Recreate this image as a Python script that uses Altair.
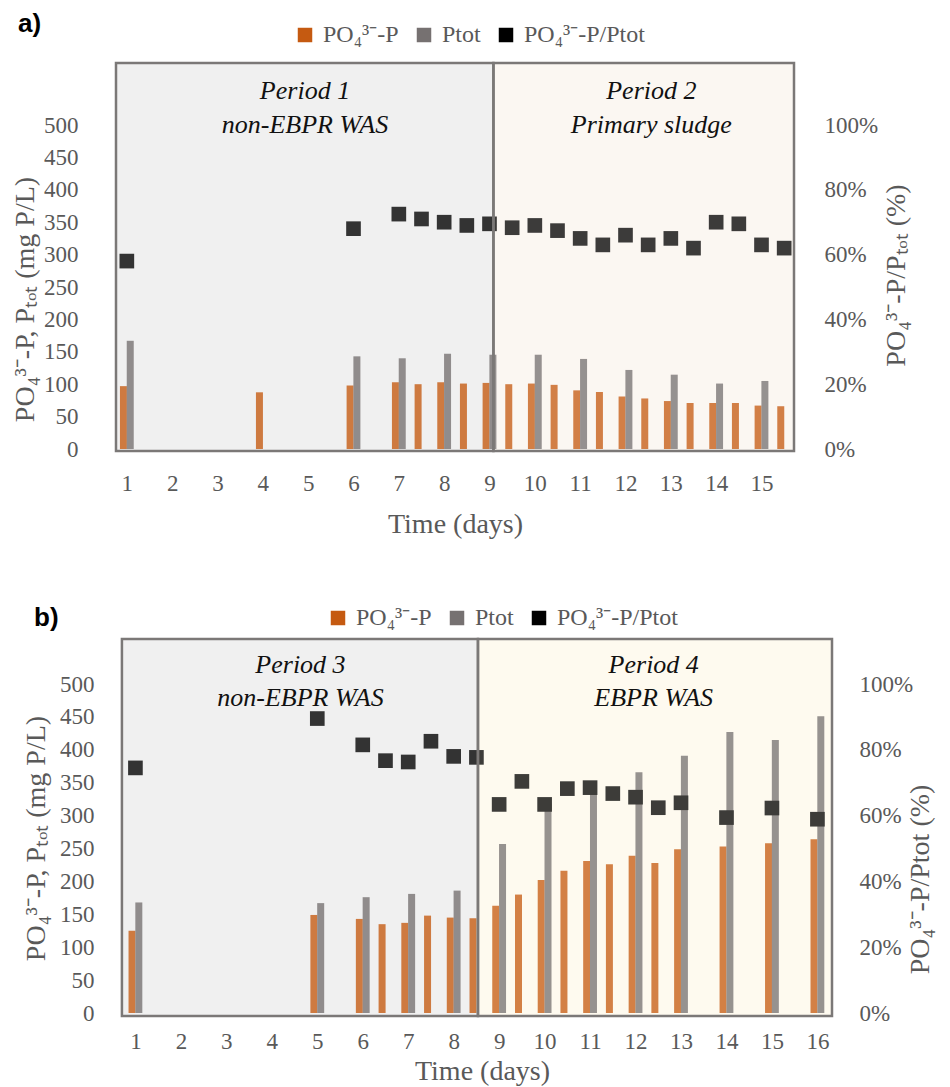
import altair as alt
import pandas as pd

SERIES = ["PO₄³⁻-P", "Ptot", "PO₄³⁻-P/Ptot"]
SERIES_COLORS = ["#C55A11", "#767171", "#000000"]

# ---------------- panel a ----------------
A_DAYS_PO4 = [1, 4, 6, 7, 7.5, 8, 8.5, 9, 9.5, 10, 10.5, 11, 11.5, 12, 12.5, 13, 13.5, 14, 14.5, 15, 15.5]
A_PO4 = [97, 87.5, 98, 103, 100, 103, 101, 102, 100, 101, 99, 90.5, 88, 81, 78, 74, 71, 71, 71, 67, 66]
A_DAYS_PTOT = [1, 6, 7, 8, 9, 10, 11, 12, 13, 14, 15]
A_PTOT = [167, 143, 140, 147, 145.5, 145.5, 139, 122, 114.7, 101, 105]
A_DAYS_RATIO = [1, 6, 7, 7.5, 8, 8.5, 9, 9.5, 10, 10.5, 11, 11.5, 12, 12.5, 13, 13.5, 14, 14.5, 15, 15.5]
A_RATIO = [58, 68, 72.5, 71, 70, 69, 69.5, 68.3, 69, 67.4, 65, 63, 66, 63, 65, 62, 70, 69.5, 63, 62]
A_TICKS = list(range(1, 16))
A_PERIOD_TEXT = ["Period 1", "non-EBPR WAS", "Period 2", "Primary sludge"]
A_PERIOD_DAY = [4.93, 4.93, 12.57, 12.57]
A_PERIOD_Y = [552, 500, 552, 500]

# ---------------- panel b ----------------
B_DAYS_PO4 = [1, 5, 6, 6.5, 7, 7.5, 8, 8.5, 9, 9.5, 10, 10.5, 11, 11.5, 12, 12.5, 13, 14, 15, 16]
B_PO4 = [125, 149, 143, 135, 137, 148, 145, 144, 163, 180, 202, 216, 231, 226, 239, 228, 249, 253, 258, 264]
B_DAYS_PTOT = [1, 5, 6, 7, 8, 9, 10, 11, 12, 13, 14, 15, 16]
B_PTOT = [168, 167, 176, 181, 186, 257, 318, 338, 366, 391, 427, 415, 451]
B_DAYS_RATIO = [1, 5, 6, 6.5, 7, 7.5, 8, 8.5, 9, 9.5, 10, 10.5, 11, 11.5, 12, 12.5, 13, 14, 15, 16]
B_RATIO = [74.5, 89.5, 81.5, 76.7, 76.3, 82.6, 78, 77.7, 63.4, 70.4, 63.4, 68.2, 68.5, 66.7, 65.6, 62.4, 63.9, 59.4, 62.3, 58.9]
B_TICKS = list(range(1, 17))
B_PERIOD_TEXT = ["Period 3", "non-EBPR WAS", "Period 4", "EBPR WAS"]
B_PERIOD_DAY = [4.63, 4.63, 12.4, 12.4]
B_PERIOD_Y = [529, 479, 529, 479]

FONT = "Liberation Serif"
LABEL_COLOR = "#595959"


def long_df(dp, po4, dt, ptot, dr, ratio):
    rows = []
    for d, v in zip(dp, po4):
        rows.append({"day": d, "value": v, "series": SERIES[0]})
    for d, v in zip(dt, ptot):
        rows.append({"day": d, "value": v, "series": SERIES[1]})
    for d, v in zip(dr, ratio):
        rows.append({"day": d, "value": v / 100.0, "series": SERIES[2]})
    return pd.DataFrame(rows)


def panel(df, cfg):
    width, height = cfg["width"], cfg["height"]
    xdom, ydom, rdom = cfg["xdom"], cfg["ydom"], cfg["rdom"]
    xscale = alt.Scale(domain=xdom, nice=False, zero=False)
    xaxis = alt.Axis(values=cfg["ticks"], format="d", title="Time (days)",
                     labelPadding=cfg["xlabpad"], tickSize=0,
                     titleX=width / 2 + cfg["xtitle_dx"], titleY=cfg["xtitle_y"],
                     titleBaseline="middle", titleAlign="center")
    X = alt.X("day:Q", scale=xscale, axis=xaxis)
    yscale = alt.Scale(domain=ydom, nice=False, zero=False)
    rscale = alt.Scale(domain=rdom, nice=False, zero=False)
    Yhid = alt.Y("value:Q", scale=yscale, axis=None)

    color = alt.Color("series:N",
                      scale=alt.Scale(domain=SERIES, range=SERIES_COLORS),
                      legend=alt.Legend(title=None, orient="none",
                                        legendX=cfg["legx"], legendY=cfg["legy"],
                                        direction="horizontal", symbolType="square",
                                        symbolSize=210, symbolStrokeWidth=0,
                                        symbolOpacity=1,
                                        labelFont=FONT, labelFontSize=24,
                                        labelColor=LABEL_COLOR, labelOffset=6,
                                        columnPadding=13))

    b = cfg["boxes"]
    box_df = pd.DataFrame({"day": [b[0], b[1]], "day2": [b[1], b[2]],
                           "value": [cfg["ybot"]] * 2, "value2": [ydom[1]] * 2})
    bg1 = alt.Chart(box_df.iloc[[0]]).mark_rect(color=cfg["fill1"]).encode(
        x=X, x2="day2", y=Yhid, y2="value2")
    bg2 = alt.Chart(box_df.iloc[[1]]).mark_rect(color=cfg["fill2"]).encode(
        x=X, x2="day2", y=Yhid, y2="value2")

    po4 = alt.Chart(df[df.series == SERIES[0]]).mark_bar(
        width=7, xOffset=-3.4).encode(
        x=X,
        y=alt.Y("value:Q", scale=yscale,
                axis=alt.Axis(values=list(range(0, 501, 50)), tickSize=0,
                              labelPadding=cfg["ylabpad"],
                              title="PO₄³⁻-P, Pₜₒₜ (mg P/L)",
                              titleAngle=270, titleBaseline="middle",
                              titleAlign="center",
                              titleX=cfg["ytitle_x"], titleY=cfg["ytitle_y"])),
        color=color)
    ptot = alt.Chart(df[df.series == SERIES[1]]).mark_bar(
        width=7, xOffset=3.4).encode(x=X, y=Yhid, color=color)
    ratio = alt.Chart(df[df.series == SERIES[2]]).mark_square(
        size=215, opacity=1, filled=True).encode(
        x=X,
        y=alt.Y("value:Q", scale=rscale,
                axis=alt.Axis(orient="right", values=[0, 0.2, 0.4, 0.6, 0.8, 1.0],
                              format=".0%", tickSize=0, labelPadding=cfg["rlabpad"],
                              title=cfg["rtitle"], titleAngle=270,
                              titleBaseline="middle", titleAlign="center",
                              titleX=cfg["rtitle_x"], titleY=cfg["rtitle_y"])),
        color=color)

    ov1 = alt.Chart(box_df.iloc[[0]]).mark_rect(color=cfg["fill1"], opacity=0.21).encode(
        x=X, x2="day2", y=Yhid, y2="value2")
    ov2 = alt.Chart(box_df.iloc[[1]]).mark_rect(color=cfg["fill2"], opacity=0.24).encode(
        x=X, x2="day2", y=Yhid, y2="value2")
    border = alt.Chart(box_df).mark_rect(fillOpacity=0, stroke="#7b7877",
                                         strokeWidth=2.5).encode(
        x=X, x2="day2", y=Yhid, y2="value2")

    txt_df = pd.DataFrame({"day": cfg["pday"], "value": cfg["py"], "t": cfg["ptext"]})
    ptxt = alt.Chart(txt_df).mark_text(font=FONT, fontStyle="italic", fontSize=26,
                                       color="#111111", baseline="middle").encode(
        x=X, y=Yhid, text="t:N")

    letter = alt.Chart(pd.DataFrame({"t": [cfg["letter"]]})).mark_text(
        font="Liberation Sans", fontWeight="bold", fontSize=26, color="#000000",
        align="left", baseline="middle").encode(
        x=alt.value(cfg["letter_x"]), y=alt.value(cfg["letter_y"]), text="t:N")

    return alt.layer(bg1, bg2, po4, ptot, ratio, ov1, ov2, border, ptxt, letter).resolve_scale(
        y="independent").properties(width=width, height=height)


cfg_a = dict(width=688, height=386, xdom=[0.761, 15.717], ydom=[0, 595.7], rdom=[0, 1.1914],
             ticks=A_TICKS, xlabpad=23, xtitle_dx=0, xtitle_y=75,
             ylabpad=33, ytitle_x=-86, ytitle_y=236,
             rlabpad=25, rtitle="PO₄³⁻-P/Pₜₒₜ (%)", rtitle_x=97, rtitle_y=212,
             legx=182, legy=-40, boxes=[0.761, 9.087, 15.717], ybot=-3,
             fill1="#f0f0f0", fill2="#fcf7f2",
             pday=A_PERIOD_DAY, py=A_PERIOD_Y, ptext=A_PERIOD_TEXT,
             letter="a)", letter_x=-93, letter_y=-39)

cfg_b = dict(width=726, height=374, xdom=[0.5727, 16.321], ydom=[0, 568.4], rdom=[0, 1.1368],
             ticks=B_TICKS, xlabpad=17, xtitle_dx=8, xtitle_y=58,
             ylabpad=17, ytitle_x=-75, ytitle_y=199,
             rlabpad=22, rtitle="PO₄³⁻-P/Ptot (%)", rtitle_x=83, rtitle_y=240,
             legx=215, legy=-33, boxes=[0.703, 8.534, 16.321], ybot=-4.5,
             fill1="#f0f0f0", fill2="#fefaf0",
             pday=B_PERIOD_DAY, py=B_PERIOD_Y, ptext=B_PERIOD_TEXT,
             letter="b)", letter_x=-77, letter_y=-21)

df_a = long_df(A_DAYS_PO4, A_PO4, A_DAYS_PTOT, A_PTOT, A_DAYS_RATIO, A_RATIO)
df_b = long_df(B_DAYS_PO4, B_PO4, B_DAYS_PTOT, B_PTOT, B_DAYS_RATIO, B_RATIO)

chart = alt.vconcat(panel(df_a, cfg_a), panel(df_b, cfg_b), spacing=190, bounds="flush").resolve_scale(
    x="independent", y="independent", color="independent").resolve_legend(
    color="independent").properties(
    padding={"left": 3, "top": 3, "right": 2, "bottom": 2}).configure_view(
    stroke=None).configure_axis(
    grid=False, ticks=False, domain=False, labelFont=FONT, labelFontSize=23,
    labelColor=LABEL_COLOR, titleFont=FONT, titleFontSize=28, titleFontWeight="normal",
    titleColor=LABEL_COLOR)

chart.save("out.html", embed_options={"renderer": "svg", "actions": False})
